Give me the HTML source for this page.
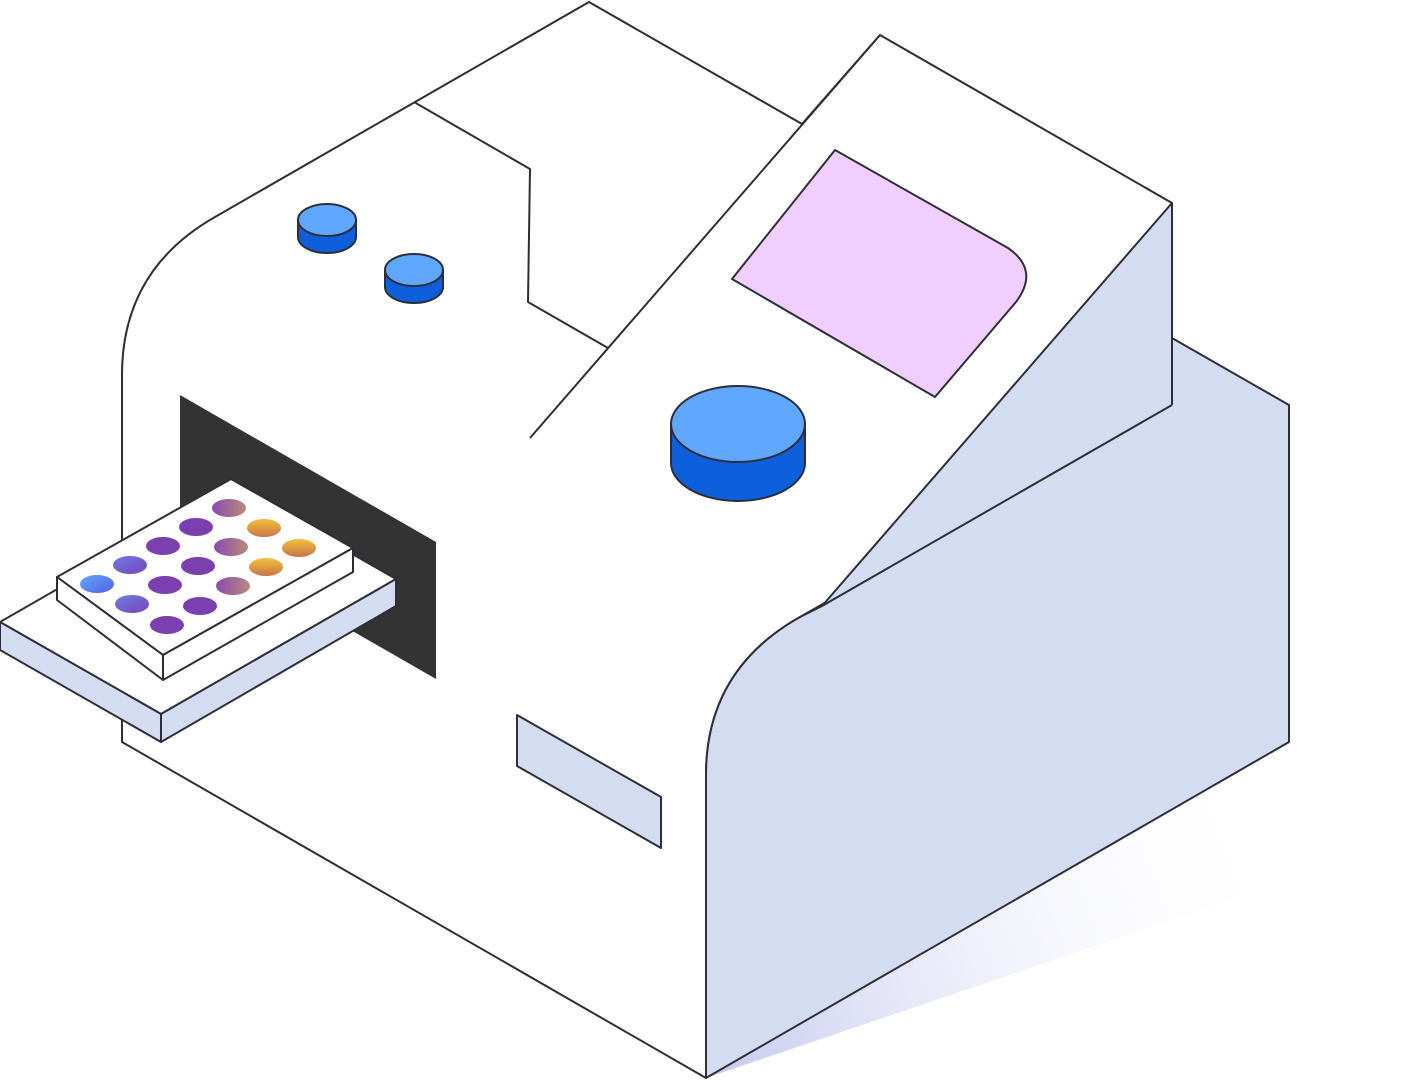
<!DOCTYPE html>
<html><head><meta charset="utf-8"><style>html,body{margin:0;padding:0;background:#fff;}svg{display:block}</style></head>
<body>
<svg width="1415" height="1080" viewBox="0 0 1415 1080" xmlns="http://www.w3.org/2000/svg">
<defs>
<linearGradient id="sh" x1="706" y1="1078" x2="1280" y2="850" gradientUnits="userSpaceOnUse">
<stop offset="0" stop-color="#C5C8EE"/><stop offset="1" stop-color="#ffffff" stop-opacity="0"/>
</linearGradient>
<linearGradient id="yel" x1="0" y1="0" x2="0" y2="1"><stop offset="0" stop-color="#F2C23A"/><stop offset="1" stop-color="#C8744A"/></linearGradient>
<linearGradient id="mau" x1="0" y1="0" x2="1" y2="0"><stop offset="0" stop-color="#8A4AB0"/><stop offset="1" stop-color="#B98A7A"/></linearGradient>
<linearGradient id="blu" x1="0" y1="0" x2="1" y2="1"><stop offset="0" stop-color="#5FA8FF"/><stop offset="1" stop-color="#5560E0"/></linearGradient>
<linearGradient id="bp" x1="0" y1="0" x2="1" y2="1"><stop offset="0" stop-color="#6A7DE0"/><stop offset="1" stop-color="#7A45B8"/></linearGradient>
</defs>
<g stroke="#2E2E38" stroke-width="2" stroke-linejoin="round">
<polygon points="706,1078 1290,880 1290,740" fill="url(#sh)" stroke="none"/>
<path d="M589,2 L802,124 L880,35 L1172,203 L1172,405 L800,617 Q706,670 706,775 L706,1078 L122,742 L122,375 Q122,270 215,217 Z" fill="#fff"/>
<path d="M1172,203 L1172,338 L1289,405 L1289,742 L706,1078 L706,775 Q706,670 800,617 L822,606 Z" fill="#D4DCF2"/>
<line x1="1172" y1="405" x2="822" y2="606" />
<line x1="1172" y1="203" x2="1172" y2="405" />
<line x1="880" y1="35" x2="530" y2="438"/>
<polyline points="414,102 530,169 528,302 608,348" fill="none"/>
<path d="M835,150 L1008,248 Q1040,270 1016,302 L935,397 L732,279 Z" fill="#F0CEFF"/>
<polygon points="517,715 661,797 661,848 517,766" fill="#D4DCF2"/>
<polygon points="180,395 436,542 436,679 180,532" fill="#333" stroke="none"/>
<polygon points="0,622 235,487 396,579 161,714" fill="#fff"/>
<polygon points="0,622 161,714 161,742 0,650" fill="#D4DCF2"/>
<polygon points="161,714 396,579 396,606 161,742" fill="#D4DCF2"/>
<polygon points="57,577 231,479 353,548 163,655" fill="#fff"/>
<polygon points="57,577 163,655 163,680 57,600" fill="#fff"/>
<polygon points="163,655 353,548 353,572 163,680" fill="#fff"/>
</g>
<g>
<ellipse cx="229" cy="508" rx="17" ry="9" fill="url(#mau)"/>
<ellipse cx="196" cy="527" rx="17" ry="9" fill="#7B3FB0"/>
<ellipse cx="163" cy="546" rx="17" ry="9" fill="#7B3FB0"/>
<ellipse cx="130" cy="565" rx="17" ry="9" fill="url(#bp)"/>
<ellipse cx="97" cy="584" rx="17" ry="9" fill="url(#blu)"/>
<ellipse cx="264" cy="528" rx="17" ry="9" fill="url(#yel)"/>
<ellipse cx="231" cy="547" rx="17" ry="9" fill="url(#mau)"/>
<ellipse cx="198" cy="566" rx="17" ry="9" fill="#7B3FB0"/>
<ellipse cx="165" cy="585" rx="17" ry="9" fill="#7B3FB0"/>
<ellipse cx="132" cy="604" rx="17" ry="9" fill="url(#bp)"/>
<ellipse cx="299" cy="548" rx="17" ry="9" fill="url(#yel)"/>
<ellipse cx="266" cy="567" rx="17" ry="9" fill="url(#yel)"/>
<ellipse cx="233" cy="586" rx="17" ry="9" fill="url(#mau)"/>
<ellipse cx="200" cy="606" rx="17" ry="9" fill="#7B3FB0"/>
<ellipse cx="167" cy="625" rx="17" ry="9" fill="#7B3FB0"/>
</g>
<g stroke="#2E2E38" stroke-width="2">
<path d="M298,220 L298,237 A29,16 0 0 0 356,237 L356,220 Z" fill="#0D5FDB"/>
<ellipse cx="327" cy="220" rx="29" ry="16" fill="#60A8FF"/>
<path d="M385,270 L385,287 A29,16 0 0 0 443,287 L443,270 Z" fill="#0D5FDB"/>
<ellipse cx="414" cy="270" rx="29" ry="16" fill="#60A8FF"/>
<path d="M671,424 L671,463 A67,38 0 0 0 805,463 L805,424 Z" fill="#0D5FDB"/>
<ellipse cx="738" cy="424" rx="67" ry="38" fill="#60A8FF"/>
</g>
</svg>
</body></html>
